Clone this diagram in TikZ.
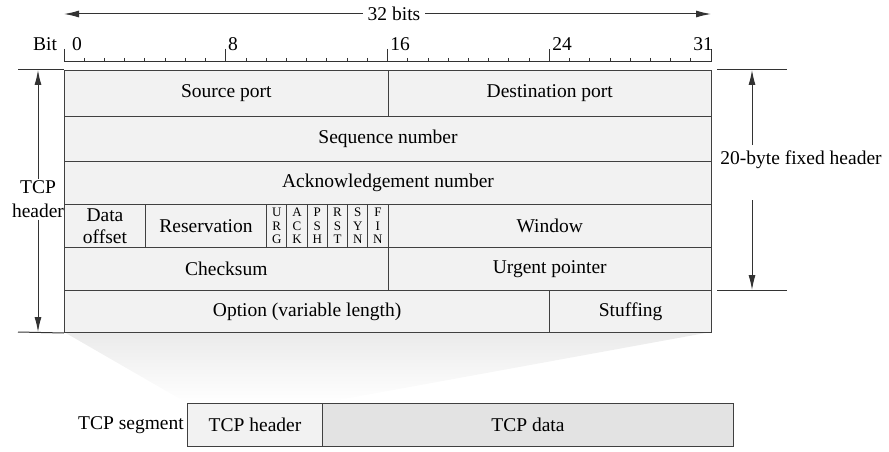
\documentclass[tikz,border=0pt]{standalone}
\usepackage{fontspec}
\setmainfont{Liberation Serif}
\newfontfamily\tnr{Liberation Serif}
\usetikzlibrary{arrows.meta,calc}
\newcommand\fld[6]{%
  \pgfmathsetmacro\fx{64+20.22*#2}%
  \pgfmathsetmacro\fw{20.22*(#3-#2)}%
  \node[field, minimum width=\fw pt, minimum height=#5pt] (#1) at (\fx,#4) {#6};}
\begin{document}
\begin{tikzpicture}[x=1pt,y=-1pt,
  every node/.style={font=\tnr\fontsize{19.5}{23.5}\selectfont},
  field/.style={draw=black!75, fill=black!5, line width=1pt, inner sep=0pt, anchor=north west, align=center},
  flag/.style={field, font=\tnr\fontsize{13}{13.5}\selectfont},
  rule/.style={draw=black!80, line width=1pt},
  dim/.style={draw=black!80, line width=1pt, -{Latex[length=15pt,width=7pt]}},
  lbl/.style={inner sep=2pt}]
\useasboundingbox (0,0) rectangle (889,452);
% shading funnel
\shade[top color=black!8, bottom color=white] (64,332) -- (711,332) -- (322,403) -- (187,403) -- cycle;
% ruler
\draw[rule] (64,62) -- (711,62);
\foreach \i in {1,...,31}{\draw[rule, line width=0.8pt] ({64+20.22*\i},58) -- ({64+20.22*\i},62);}
\foreach \i in {0,8,16,24,32}{\draw[rule] ({64+20.22*\i},49) -- ({64+20.22*\i},62);}
\node[lbl] (bit) at (45,44) {Bit};
\node[lbl] (b0) at (77,44) {0};
\node[lbl] (b8) at (233,44) {8};
\node[lbl] (b16) at (400,44) {16};
\node[lbl] (b24) at (562,44) {24};
\node[lbl] (b31) at (703,44) {31};
% 32 bits
\node[fill=white, inner sep=5pt] (bits) at (394,14) {32 bits};
\coordinate (bl) at (64,14);
\coordinate (br) at (711,14);
\draw[dim] (bits.west) -- (bl);
\draw[dim] (bits.east) -- (br);
% fields
\fld{src}{0}{16}{70}{46}{Source port}
\fld{dst}{16}{32}{70}{46}{Destination port}
\fld{seq}{0}{32}{116}{45}{Sequence number}
\fld{ack}{0}{32}{161}{43}{Acknowledgement number}
\fld{off}{0}{4}{204}{43}{Data\\[-2pt]offset}
\fld{res}{4}{10}{204}{43}{Reservation}
\fld{win}{16}{32}{204}{43}{Window}
\fld{chk}{0}{16}{247}{43}{Checksum}
\fld{urp}{16}{32}{247}{43}{Urgent pointer}
\fld{opt}{0}{24}{290}{42}{Option (variable length)}
\fld{stf}{24}{32}{290}{42}{Stuffing}
\foreach \n/\a/\b/\c [count=\k from 10] in {urg/U/R/G, ackf/A/C/K, psh/P/S/H, rst/R/S/T, syn/S/Y/N, fin/F/I/N}{
  \pgfmathsetmacro\fx{64+20.22*\k}
  \node[flag, minimum width=20.22pt, minimum height=43pt] (\n) at (\fx,204) {\a\\\b\\\c};
}
% left dimension
\draw[rule] (18,70) -- (src.north west);
\draw[rule] (18,332) -- (opt.south west);
\node[align=center, inner sep=2pt] (th) at (38,199) {TCP\\header};
\coordinate (lt) at (38,70);
\coordinate (lb) at (38,332);
\draw[dim] (th.north) -- (lt);
\draw[dim] (th.south) -- (lb);
% right dimension
\draw[rule] (717,70) -- (787,70);
\draw[rule] (717,290) -- (787,290);
\node[inner sep=2pt] (fh) at (801,160) {20-byte fixed header};
\coordinate (ra1) at (752,145);
\coordinate (ra2) at (752,200);
\coordinate (rt) at (752,70);
\coordinate (rb) at (752,290);
\draw[dim] (ra1) -- (rt);
\draw[dim] (ra2) -- (rb);
% TCP segment
\node[field, fill=black!5, minimum width=135pt, minimum height=43pt] (sh) at (187,403) {TCP header};
\node[field, fill=black!11, minimum width=411pt, minimum height=43pt] (sd) at (322,403) {TCP data};
\node[anchor=east, inner sep=3pt] (seg) at (sh.west) {TCP segment};
\end{tikzpicture}
\end{document}
